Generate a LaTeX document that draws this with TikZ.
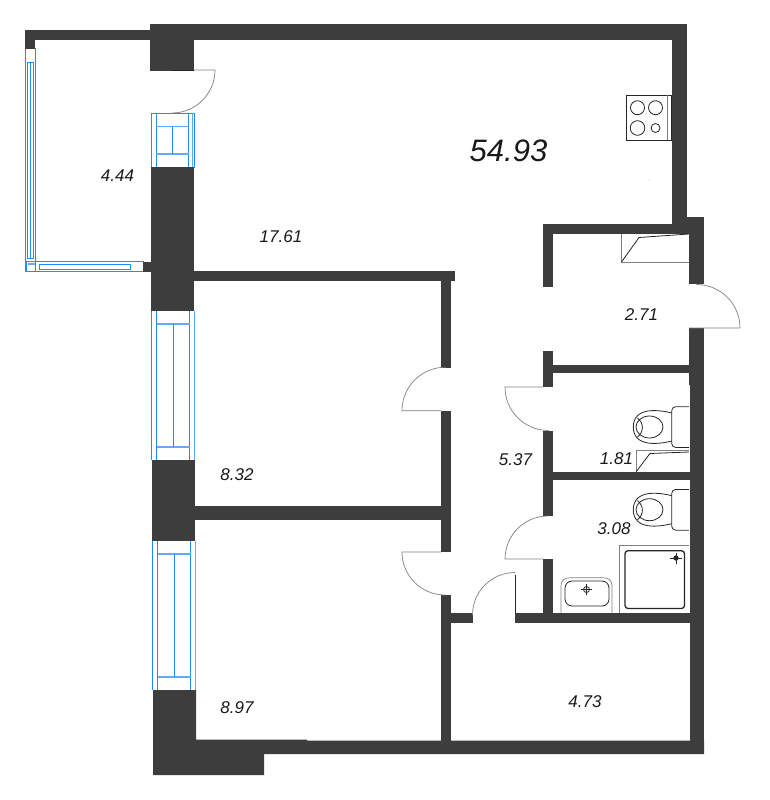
\documentclass[tikz,border=0pt]{standalone}
\usepackage{fontspec}
\usepackage{xcolor}
\setmainfont{Liberation Sans}
\definecolor{wallgrey}{HTML}{3D3D3D}
\definecolor{glassblue}{HTML}{1E8CFF}
\definecolor{glasspale}{HTML}{62AAFF}
\tikzset{
	wall/.style={fill=wallgrey, draw=none},
	glass/.style={draw=glassblue, line width=1pt},
	glassthin/.style={draw=glassblue, line width=0.6pt},
	glasssoft/.style={draw=glasspale, line width=1.3pt},
	doorline/.style={draw=black!50, line width=0.7pt},
	fixture/.style={draw=black!85, line width=0.8pt},
	area/.style={font=\itshape\fontsize{17}{17}\selectfont, text=black!90, inner sep=0pt},
	total/.style={font=\itshape\fontsize{31}{31}\selectfont, text=black!90, inner sep=0pt}
}

\begin{document}
\begin{tikzpicture}[x=1pt, y=-1pt]
		\useasboundingbox (0,0) rectangle (770,800);

		% Glazing of the balcony
		\draw[glass] (25,49) rectangle (35,271.5);
		\draw[glassthin] (27.5,62) rectangle (33.5,258);
		\draw[glassthin] (30.5,62) -- (30.5,258);
		\draw[glass] (26,261.5) rectangle (143,271.5);
		\draw[glassthin] (39.5,264) rectangle (130,269);
		\draw[glass] (35,261.5) -- (35,271.5);
		\draw[glasssoft] (27.5,264) -- (35,264);

		% Glazing of the balcony door
		\draw[glass] (151,113) rectangle (194,167);
		\draw[glass] (156,113) -- (156,167);
		\draw[glass] (188.5,113) -- (188.5,167);
		\draw[glasssoft] (192.5,113) -- (192.5,167);
		\draw[glasssoft] (156,126.5) -- (188.5,126.5);
		\draw[glasssoft] (156,154) -- (188.5,154);
		\draw[glass] (172.5,126.5) -- (172.5,154);

		% Tall windows
		\foreach \xa/\ya/\yb in {151.7/311/460, 152.5/541/690}{
			\draw[glass] (\xa,\ya) -- (\xa,\yb);
			\draw[glass] (\xa+5,\ya) -- (\xa+5,\yb);
			\draw[glass] (\xa+38,\ya) -- (\xa+38,\yb);
			\draw[glasssoft] (\xa+43,\ya) -- (\xa+43,\yb);
			\draw[glasssoft] (\xa+5,\ya+13) -- (\xa+38,\ya+13);
			\draw[glasssoft] (\xa+5,\yb-13) -- (\xa+38,\yb-13);
			\draw[glass] (\xa+21.5,\ya+13) -- (\xa+21.5,\yb-13);
		}

		% Outer walls
		\fill[wall] (24.5,30.5) rectangle (150,40.5);
		\fill[wall] (24.5,30.5) rectangle (35,49);
		\fill[wall] (150,24.5) rectangle (194,70.5);
		\fill[wall] (150,24.5) rectangle (686.7,40);
		\fill[wall] (671.7,24.5) rectangle (686.7,223.5);
		\fill[wall] (671.7,217) rectangle (704,233.5);
		\fill[wall] (689,217) rectangle (704,284);
		\fill[wall] (689,328) rectangle (704,385);
		\fill[wall] (690,385) rectangle (704,754);
		\fill[wall] (151,167) rectangle (194,311);
		\fill[wall] (143,261.5) rectangle (151,271.5);
		\fill[wall] (152,460) rectangle (195,541);
		\fill[wall] (153,690) -- (196,690) -- (196,739.5) -- (307,739.5) -- (307,740.5) -- (704,740.5)
			-- (704,754) -- (264,754) -- (264,775) -- (153,775) -- cycle;

		% Inner walls
		\fill[wall] (194,271) rectangle (455,281);
		\fill[wall] (194,505.5) rectangle (441,520);
		\fill[wall] (440.7,271) rectangle (450.7,367.5);
		\fill[wall] (440.7,410.7) rectangle (450.7,552);
		\fill[wall] (440.7,594.7) rectangle (450.7,741);
		\fill[wall] (450,613) rectangle (472.5,623);
		\fill[wall] (515,613) rectangle (692,623);
		\fill[wall] (543,223.5) rectangle (689,233.5);
		\fill[wall] (543,223.5) rectangle (553,286.7);
		\fill[wall] (543,351) rectangle (553,387);
		\fill[wall] (553,364.5) rectangle (690,373);
		\fill[wall] (543,431) rectangle (553,516);
		\fill[wall] (553,471.5) rectangle (690,479.5);
		\fill[wall] (543,559) rectangle (553,614);

		% Doors
		\draw[doorline] (194,70) -- (215,70) arc (0:90:43);
		\draw[fixture] (172,70) -- (194,70);
		\draw[doorline] (689,328) -- (740,328) arc (0:-90:43.5);
		\draw[doorline] (441,410.7) -- (402,410.7) arc (180:270:43.5);
		\draw[doorline] (441,552) -- (402,552) arc (180:90:43);
		\draw[doorline] (543,387) -- (505,387) arc (180:90:43.5);
		\draw[doorline] (543,559) -- (505,559) arc (180:270:43);
		\draw[doorline] (472.5,615) arc (180:270:42.5);
		\draw[fixture] (515,575) -- (515,613);

		% Stove
		\draw[fixture] (626.7,95.3) rectangle (671.5,140.3);
		\draw[doorline] (667.3,95.3) -- (667.3,140.3);
		\draw[fixture] (637.5,107.7) circle (7);
		\draw[fixture] (655.5,107.7) circle (7);
		\draw[fixture] (637.5,128) circle (7.3);
		\draw[fixture] (655.5,128) circle (4.5);
		\fill[black!40] (649,180) circle (0.5);

		% Hatches beside the entrance and the toilet
		\draw[doorline] (621.5,233.5) -- (621.5,262) -- (689,262);
		\draw[fixture] (621.5,262) -- (639,237.5) -- (689,234);
		\draw[doorline] (689,450) -- (636.3,450) -- (636.3,471.5);
		\draw[fixture] (636.3,471.5) -- (650,453.5) -- (689,452);

		% Toilets
		\foreach \dy in {0,82.7}{
			\draw[fixture, rounded corners=4pt] (689,406.7+\dy) -- (671.7,406.7+\dy) -- (671.7,447.5+\dy) -- (689,447.5+\dy);
			\draw[fixture] (671.7,413+\dy) .. controls (660,410+\dy) and (633.3,406+\dy) .. (633.3,427+\dy)
				.. controls (633.3,448+\dy) and (660,444+\dy) .. (671.7,441+\dy);
			\draw[fixture] (649.5,427+\dy) ellipse (13.5 and 11);
			\draw[fixture] (637.5,418+\dy) .. controls (644,423+\dy) and (644,432+\dy) .. (637.5,437+\dy);
		}

		% Shower
		\draw[doorline] (689,545.3) -- (619.7,545.3) -- (619.7,613);
		\draw[fixture, line width=1.3pt, rounded corners=3pt] (625,550.7) rectangle (684.5,608.5);
		\draw[fixture] (670,558) -- (682,558) (676,552.5) -- (676,563.5);
		\fill[black!85] (676,558) circle (2.7);

		% Basin
		\draw[doorline] (561,613) -- (561,587) .. controls (561,580) and (564,577.7) .. (571,577.7) -- (602,577.7)
			.. controls (609,577.7) and (612,580) .. (612,587) -- (612,613);
		\draw[fixture, rounded corners=7pt] (565,581) rectangle (609,606);
		\draw[fixture] (586.5,589.5) circle (3);
		\draw[fixture] (581,589.5) -- (592,589.5) (586.5,584) -- (586.5,595);

		% Areas
		\node[total] (totalarea) at (508.5,151) {54.93};
		\node[area] (kitchen) at (281,237) {17.61};
		\node[area] (balcony) at (117.5,176) {4.44};
		\node[area] (roomone) at (237,475) {8.32};
		\node[area] (roomtwo) at (237,708) {8.97};
		\node[area] (lobby) at (641.5,315) {2.71};
		\node[area] (corridor) at (515.5,460) {5.37};
		\node[area] (toilet) at (616.5,459) {1.81};
		\node[area] (bathroom) at (614,529) {3.08};
		\node[area] (closet) at (585,702) {4.73};
	\end{tikzpicture}
\end{document}
